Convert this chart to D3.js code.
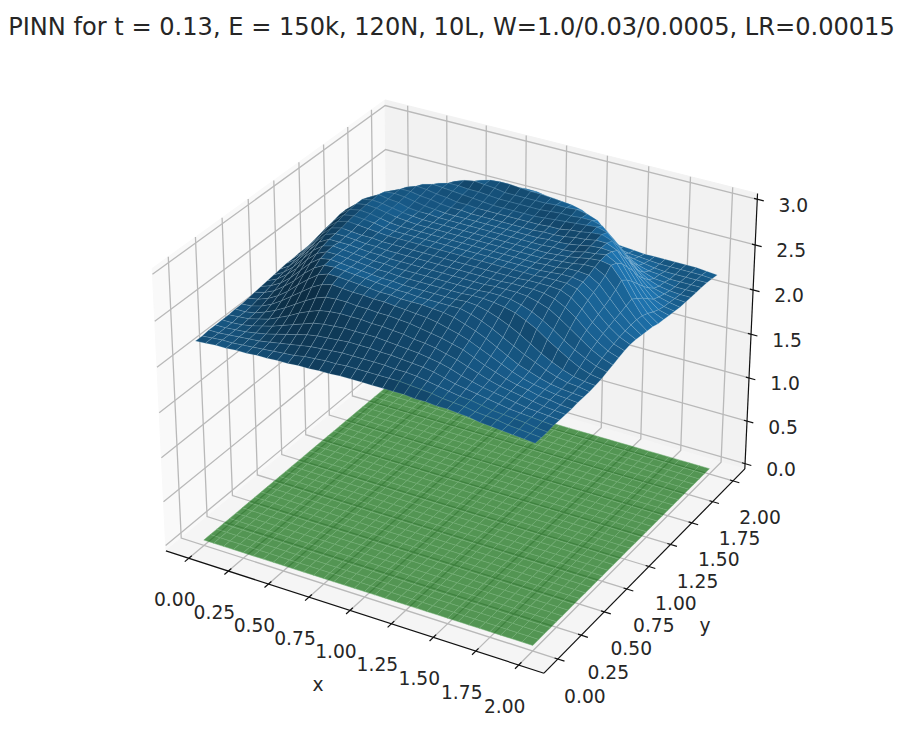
<!DOCTYPE html>
<html><head><meta charset="utf-8"><style>html,body{margin:0;padding:0;background:#fff}text{font-family:"DejaVu Sans";fill:#262626}</style>
<script src="https://cdn.jsdelivr.net/npm/d3@7"></script></head><body><svg id="c" width="911" height="729"></svg>
<script>
const titleText="PINN for t = 0.13, E = 150k, 120N, 10L, W=1.0/0.03/0.0005, LR=0.00015";
const gridCoords=[0,.0625,.125,.1875,.25,.3125,.375,.4375,.5,.5625,.625,.6875,.75,.8125,.875,.9375,1,1.0625,1.125,1.1875,1.25,1.3125,1.375,1.4375,1.5,1.5625,1.625,1.6875,1.75,1.8125,1.875,1.9375,2];
const xyTicks=[0,.25,.5,.75,1,1.25,1.5,1.75,2];
const zTicks=[0,.5,1,1.5,2,2.5,3];
// height of the PINN surface x100, rows = y, columns = x
const heightRows=[
[223,224,225,225,226,226,227,227,228,228,229,229,230,230,231,231,231,231,231,231,231,230,230,229,229,228,227,225,224,223,222,221,220],
[223,224,225,225,226,227,228,229,230,231,233,234,235,235,236,236,236,236,236,236,235,234,233,231,230,229,227,226,225,223,222,221,220],
[224,224,225,226,227,228,230,232,234,236,238,239,240,241,241,241,241,241,240,240,239,237,235,233,231,230,228,226,225,224,223,221,220],
[224,224,225,226,228,230,233,236,239,242,244,245,246,247,247,247,246,246,245,244,243,241,238,235,233,231,229,227,225,224,223,222,221],
[224,224,225,227,230,233,237,241,245,249,251,252,253,253,253,253,252,251,250,249,247,245,242,238,235,232,230,228,226,224,223,222,221],
[224,225,226,229,232,237,242,248,253,257,259,260,260,260,259,259,258,257,255,254,252,249,246,242,238,234,231,229,227,225,223,222,221],
[225,225,227,231,236,242,249,256,262,266,267,267,266,266,265,265,264,263,261,259,257,254,251,246,241,237,233,230,228,225,224,222,221],
[225,226,229,234,241,249,257,265,271,274,273,272,272,271,271,270,269,268,267,265,262,259,255,250,245,240,235,231,228,226,224,223,222],
[226,228,232,238,246,256,265,273,277,277,276,275,274,273,273,272,272,272,271,270,268,264,260,255,249,243,237,233,229,226,224,223,222],
[227,230,235,243,252,263,272,278,279,278,277,276,275,274,273,273,272,272,272,272,272,269,265,260,254,248,242,237,232,228,225,224,222],
[228,232,238,247,258,269,277,279,278,277,276,275,274,274,273,273,273,273,273,273,274,273,270,266,261,255,248,241,235,230,226,224,223],
[229,234,242,252,264,274,279,279,278,277,276,275,275,274,274,274,274,274,274,274,275,275,274,272,269,264,258,250,243,236,230,226,224],
[230,236,245,257,269,277,280,279,278,277,276,276,275,275,275,275,275,275,275,275,275,276,276,275,272,268,262,255,247,240,234,229,226],
[231,238,249,261,273,279,279,279,278,277,277,276,276,276,276,276,276,276,276,276,276,277,277,277,276,273,269,262,254,246,238,232,228],
[232,240,252,265,276,280,280,279,278,278,277,277,277,277,277,277,277,277,277,277,277,277,278,278,278,277,274,268,260,250,241,234,230],
[232,242,255,268,278,281,280,279,279,278,278,278,278,278,278,278,278,278,278,278,278,278,278,279,279,279,278,273,264,253,244,236,232],
[233,244,258,271,280,283,282,281,280,279,279,279,279,279,279,279,279,279,279,279,279,279,279,279,280,280,280,277,268,256,246,238,233],
[233,245,260,273,282,284,283,282,280,279,279,279,279,279,279,279,279,279,279,279,279,279,279,279,280,281,281,279,271,259,248,239,233],
[232,245,261,275,283,285,284,282,280,279,279,279,279,279,279,279,279,279,279,279,279,279,279,280,280,282,282,281,274,262,250,240,232],
[231,244,260,275,284,286,285,283,281,280,279,279,279,279,279,279,279,279,279,279,279,279,279,280,281,282,284,284,278,266,252,240,231],
[230,240,256,272,284,286,285,283,281,280,279,279,279,279,279,279,279,279,279,279,279,279,279,280,281,283,285,286,284,271,254,239,230],
[228,236,249,266,281,287,285,284,281,280,280,279,279,279,279,279,279,279,279,279,279,279,280,280,281,284,285,287,281,266,249,236,228],
[227,232,244,259,275,285,286,285,283,281,280,279,279,279,279,279,279,279,279,279,279,280,280,281,283,285,286,285,275,259,244,232,227],
[226,229,238,251,266,281,286,286,284,283,281,280,280,279,279,279,279,279,279,279,280,280,281,283,284,286,286,281,266,251,238,229,226],
[225,227,232,243,257,270,283,287,286,284,283,281,281,280,280,280,280,280,280,280,281,281,283,284,286,287,283,270,257,243,232,227,225],
[224,226,229,236,246,261,273,284,287,286,285,284,283,282,281,281,281,281,281,282,283,284,285,286,287,284,273,261,246,236,229,226,224],
[224,225,227,230,238,249,262,273,283,286,286,285,285,284,283,283,283,283,283,284,285,285,286,286,283,273,262,249,238,230,227,225,224],
[224,224,225,227,231,238,249,261,272,283,287,289,288,287,285,285,285,285,285,286,286,287,285,281,270,261,249,238,231,227,225,224,224],
[222,223,224,226,227,231,238,246,257,268,278,285,288,289,289,288,287,287,286,285,284,281,275,266,257,246,238,231,227,226,224,224,224],
[220,221,222,224,226,228,231,236,243,251,259,266,272,278,281,282,282,280,279,277,271,266,259,251,243,236,230,227,226,224,224,224,224],
[219,220,222,224,225,226,228,231,235,240,246,252,256,260,262,263,264,263,262,259,254,249,244,238,232,229,227,225,224,224,224,224,224],
[217,219,221,223,224,225,226,227,229,232,236,239,242,244,246,246,246,246,244,242,239,236,232,229,227,226,225,224,224,224,224,224,223],
[215,217,219,221,223,224,224,225,226,227,228,230,231,232,232,233,233,233,232,231,230,228,227,226,225,224,224,224,224,224,224,223,222]];

const svg=d3.select("#c");
const xLim=[-0.1458,2.1458],zLim=[-0.0625,3.0625],halfXY=0.59525,halfZ=0.44645;
const sx=d3.scaleLinear().domain(xLim).range([-halfXY,halfXY]);
const sy=d3.scaleLinear().domain(xLim).range([-halfXY,halfXY]);
const sz=d3.scaleLinear().domain(zLim).range([-halfZ,halfZ]);
const px=d3.scaleLinear().domain([0,0.1]).range([460.7,460.7+363.8]);
const py=d3.scaleLinear().domain([0,0.1]).range([372.8,372.8-360.5]);
const el=30*Math.PI/180,az=-60*Math.PI/180,dist=10;
const w3=[Math.cos(el)*Math.cos(az),Math.cos(el)*Math.sin(az),Math.sin(el)];
const u3=[-Math.sin(az),Math.cos(az),0];
const v3=[w3[1]*u3[2]-w3[2]*u3[1],w3[2]*u3[0]-w3[0]*u3[2],w3[0]*u3[1]-w3[1]*u3[0]];
const dot=(a,b)=>a[0]*b[0]+a[1]*b[1]+a[2]*b[2];
function proj(x,y,z){const q=[sx(x),sy(y),sz(z)],d=dist-dot(w3,q);return [px(dot(u3,q)/d),py(dot(v3,q)/d),d];}
const line=pts=>d3.line()(pts.map(p=>proj(...p).slice(0,2)));
const [x0,x1]=xLim,[z0,z1]=zLim,y0=x0,y1=x1;

const panes=[[[x0,y0,z0],[x0,y1,z0],[x0,y1,z1],[x0,y0,z1],"#f9f9f9"],[[x0,y1,z0],[x1,y1,z0],[x1,y1,z1],[x0,y1,z1],"#f2f2f2"],[[x0,y0,z0],[x1,y0,z0],[x1,y1,z0],[x0,y1,z0],"#f5f5f5"]];
svg.append("g").selectAll("path").data(panes).join("path").attr("d",p=>line(p.slice(0,4))+"Z").attr("fill",p=>p[4]).attr("stroke",p=>p[4]).attr("stroke-width",1);
const gridG=svg.append("g").attr("fill","none").attr("stroke","#b9b9b9").attr("stroke-width",1.3);
xyTicks.forEach(v=>{gridG.append("path").attr("d",line([[v,y0,z0],[v,y1,z0],[v,y1,z1]]));gridG.append("path").attr("d",line([[x1,v,z0],[x0,v,z0],[x0,v,z1]]));});
zTicks.forEach(v=>gridG.append("path").attr("d",line([[x0,y0,v],[x0,y1,v],[x1,y1,v]])));
const axG=svg.append("g").attr("fill","none").attr("stroke","#111").attr("stroke-width",1.2);
axG.append("path").attr("d",line([[x0,y0,z0],[x1,y0,z0]]));
axG.append("path").attr("d",line([[x1,y0,z0],[x1,y1,z0]]));
axG.append("path").attr("d",line([[x1,y1,z0],[x1,y1,z1]]));
const dXY=(x1-x0)/12;
xyTicks.forEach(v=>{axG.append("path").attr("d",line([[v,y0-.2*dXY,z0],[v,y0+.15*dXY,z0]]));axG.append("path").attr("d",line([[x1+.2*dXY,v,z0],[x1-.1*dXY,v,z0]]));});
zTicks.forEach(v=>axG.append("path").attr("d",line([[x1+.2*dXY,y1,v],[x1-.1*dXY,y1,v]])));
const fs=18.7;
const lab=(t,x,y,size)=>svg.append("text").attr("x",x).attr("y",y).attr("text-anchor","middle").attr("dominant-baseline","central").attr("font-size",size||fs).text(t);
xyTicks.forEach(v=>{const a=proj(v,y0,z0);lab(v.toFixed(2),a[0]-14,a[1]+41);const b=proj(x1,v,z0);lab(v.toFixed(2),b[0]+27,b[1]+37);});
zTicks.forEach(v=>{const c=proj(x1,y1,v);lab(v.toFixed(1),c[0]+36,c[1]+6);});
lab("x",318,684);lab("y",705,625);
svg.append("text").attr("x",451.5).attr("y",27).attr("text-anchor","middle").attr("dominant-baseline","central").attr("font-size",24.1).text(titleText);

function quads(zAt){const out=[];for(let j=0;j<gridCoords.length-1;j++)for(let i=0;i<gridCoords.length-1;i++){
 const xa=gridCoords[i],xb=gridCoords[i+1],ya=gridCoords[j],yb=gridCoords[j+1];
 const c=[[xa,ya,zAt(j,i)],[xb,ya,zAt(j,i+1)],[xb,yb,zAt(j+1,i+1)],[xa,yb,zAt(j+1,i)]];
 const zx=((c[1][2]+c[2][2])-(c[0][2]+c[3][2]))/(2*(xb-xa)),zy=((c[2][2]+c[3][2])-(c[0][2]+c[1][2]))/(2*(yb-ya));
 const depth=d3.mean(c,p=>proj(...p)[2]);out.push({c,zx,zy,depth});}
 return out.sort((a,b)=>b.depth-a.depth);}
const base=[31,119,180];
const light=[.7,.7,.18];
function blueFill(q){const n=Math.hypot(q.zx,q.zy,1),s=(-light[0]*q.zx-light[1]*q.zy+light[2])/n,k=.3+.7*(s+1)/2;return d3.rgb(base[0]*k,base[1]*k,base[2]*k)+"";}
const greenG=svg.append("g").attr("opacity",.66);
greenG.selectAll("path").data(quads(()=>0)).join("path").attr("d",q=>line(q.c)+"Z").attr("fill","#006500").attr("stroke","#2f8a33").attr("stroke-width",.5);
svg.append("g").selectAll("path").data(quads((j,i)=>heightRows[j][i]/100)).join("path").attr("d",q=>line(q.c)+"Z").attr("fill",blueFill).attr("stroke","rgba(175,205,225,.38)").attr("stroke-width",.5);
</script></body></html>
